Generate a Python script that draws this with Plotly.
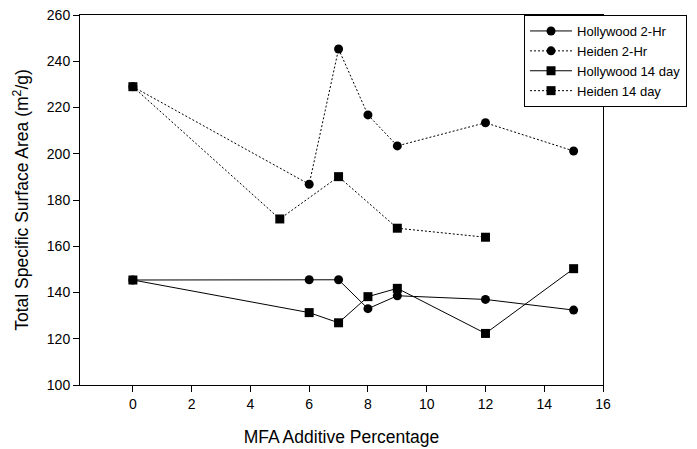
import plotly.graph_objects as go

# Data
hw2_x = [0, 6, 7, 8, 9, 12, 15]
hw2_y = [145.4, 145.5, 145.5, 133.0, 138.6, 137.0, 132.4]

hd2_x = [0, 6, 7, 8, 9, 12, 15]
hd2_y = [229.0, 186.8, 245.3, 216.8, 203.4, 213.4, 201.2]

hw14_x = [0, 6, 7, 8, 9, 12, 15]
hw14_y = [145.4, 131.3, 126.9, 138.2, 141.8, 122.3, 150.3]

hd14_x = [0, 5, 7, 9, 12]
hd14_y = [229.0, 171.8, 190.1, 167.8, 163.9]

names = ["Hollywood 2-Hr", "Heiden 2-Hr", "Hollywood 14 day", "Heiden 14 day"]
x_ticks = [0, 2, 4, 6, 8, 10, 12, 14, 16]
y_ticks = [100, 120, 140, 160, 180, 200, 220, 240, 260]

FONT = "Liberation Sans, Arial, sans-serif"

fig = go.Figure()
series = [
    (hw2_x, hw2_y, names[0], "solid", "circle"),
    (hd2_x, hd2_y, names[1], "2px,2px", "circle"),
    (hw14_x, hw14_y, names[2], "solid", "square"),
    (hd14_x, hd14_y, names[3], "2px,2px", "square"),
]
for xs, ys, nm, dash, sym in series:
    fig.add_trace(go.Scatter(
        x=xs, y=ys, name=nm, mode="lines+markers",
        line=dict(color="black", width=1, dash=dash),
        marker=dict(symbol=sym, size=9, color="black"),
    ))

axis_common = dict(
    showline=True, linecolor="black", linewidth=1, mirror=True,
    ticks="outside", ticklen=6, tickcolor="black", tickwidth=1,
    showgrid=False, zeroline=False, ticklabeloverflow="allow",
    automargin=False,
    tickfont=dict(family=FONT, size=14, color="black"),
)

fig.update_layout(
    width=697, height=449,
    margin=dict(l=72, r=102, t=7, b=72),
    paper_bgcolor="white", plot_bgcolor="white",
    font=dict(family=FONT, color="black"),
    xaxis=dict(range=[-1.8, 16], tickvals=x_ticks,
               title=dict(text="MFA Additive Percentage",
                          font=dict(family=FONT, size=17.5), standoff=19),
               **axis_common),
    yaxis=dict(range=[100, 260], tickvals=y_ticks,
               title=dict(text="Total Specific Surface Area (m<sup>2</sup>/g)",
                          font=dict(family=FONT, size=17.5), standoff=13),
               **axis_common),
    legend=dict(x=0.849, y=1.0, xanchor="left", yanchor="top",
                bgcolor="white", bordercolor="black", borderwidth=1,
                font=dict(family=FONT, size=13, color="black"),
                tracegroupgap=0, itemwidth=42),
    showlegend=True,
)

fig.write_html("out.html")
